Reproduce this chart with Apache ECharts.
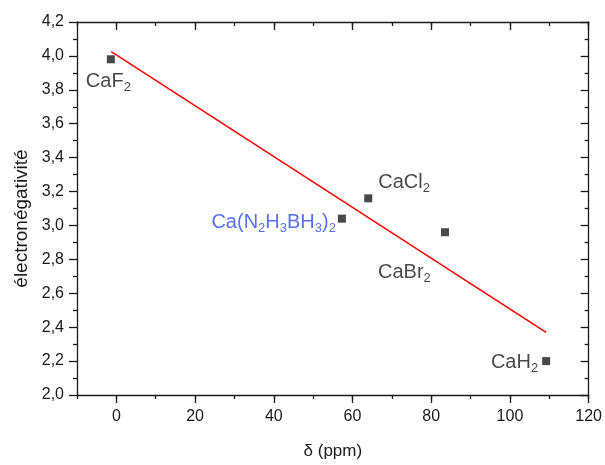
<!DOCTYPE html>
<html>
<head>
<meta charset="utf-8">
<script src="https://cdn.jsdelivr.net/npm/echarts@6/dist/echarts.min.js"></script>
<style>html,body{margin:0;padding:0;background:#fff}#c{width:605px;height:465px}</style>
</head>
<body>
<div id="c"></div>
<script>
// ---- data ----
const compounds = ['CaF2', 'CaCl2', 'Ca(N2H3BH3)2', 'CaBr2', 'CaH2'];
const shifts = [-1.4, 64.0, 57.3, 83.5, 109.2];          // δ (ppm)
const electronegativity = [3.98, 3.16, 3.04, 2.96, 2.20];
const fitX = [-1.3, 109.2];
const fitY = [4.025, 2.37];
const xMajorTicks = [0, 20, 40, 60, 80, 100, 120];
const xLabel = 'δ (ppm)';
const yLabel = 'électronégativité';

// ---- presentation ----
const TXT = '#1a1a1a';
const FONT = '"Liberation Sans", Arial, sans-serif';
const labelPlacement = [
  {align: 'left',  offset: [-25, 22]},
  {align: 'left',  offset: [10, -16]},
  {align: 'right', offset: [-6, 4]},
  {align: 'left',  offset: [-67, 40]},
  {align: 'right', offset: [-8, 1]}
];
const highlight = [false, false, true, false, false];

function toRich(name, blue) {
  const m = blue ? 'bm' : 'm', s = blue ? 'bs' : 's';
  return name.replace(/(\D+)|(\d+)/g, (all, a, d) => a ? `{${m}|${a}}` : `{${s}|${d}}`);
}

const scatterData = compounds.map((n, i) => ({
  value: [shifts[i], electronegativity[i]],
  label: {
    show: true,
    position: 'inside',
    align: labelPlacement[i].align,
    verticalAlign: 'middle',
    offset: labelPlacement[i].offset,
    formatter: toRich(n, highlight[i])
  }
}));

const richStyles = {
  m: {fontSize: 20, color: TXT, fontFamily: FONT},
  s: {fontSize: 13, color: TXT, fontFamily: FONT, padding: [12, 0, 0, 0]},
  bm: {fontSize: 20, color: '#2a4cf0', fontFamily: FONT},
  bs: {fontSize: 13, color: '#2a4cf0', fontFamily: FONT, padding: [12, 0, 0, 0]}
};

const axLine = {show: true, onZero: false, lineStyle: {color: TXT, width: 1.3}};
const noLine = {show: false, onZero: false};
const xCommon = {type: 'value', min: -10, max: 120, splitLine: {show: false}, gridIndex: 0};

const chart = echarts.init(document.getElementById('c'), null, {renderer: 'canvas'});
chart.setOption({
  animation: false,
  backgroundColor: '#fff',
  grid: {left: 77, right: 14, top: 22, bottom: 66, containLabel: false},
  xAxis: [
    Object.assign({}, xCommon, {
      position: 'bottom', interval: 10,
      axisLine: axLine,
      axisTick: {show: true, inside: false, length: 4, lineStyle: {color: TXT, width: 1.3}},
      axisLabel: {show: true, margin: 14, color: TXT, fontSize: 16, fontFamily: FONT,
        formatter: v => (Math.round(v) % 20 === 0 ? String(Math.round(v)) : '')},
      name: xLabel, nameLocation: 'middle', nameGap: 48,
      nameTextStyle: {fontSize: 17, color: TXT, fontFamily: FONT}
    }),
    Object.assign({}, xCommon, {
      position: 'bottom',
      axisLine: noLine,
      axisTick: {show: true, inside: false, length: 8, customValues: xMajorTicks, lineStyle: {color: TXT, width: 1.3}},
      axisLabel: {show: false}
    }),
    Object.assign({}, xCommon, {
      position: 'top', interval: 10,
      axisLine: axLine,
      axisTick: {show: true, inside: true, length: 4, lineStyle: {color: TXT, width: 1.3}},
      axisLabel: {show: false}
    }),
    Object.assign({}, xCommon, {
      position: 'top',
      axisLine: noLine,
      axisTick: {show: true, inside: true, length: 8, customValues: xMajorTicks, lineStyle: {color: TXT, width: 1.3}},
      axisLabel: {show: false}
    })
  ],
  yAxis: [
    {
      type: 'value', min: 2.0, max: 4.2, interval: 0.2, position: 'left',
      splitLine: {show: false},
      axisLine: axLine,
      axisTick: {show: true, inside: false, length: 8, lineStyle: {color: TXT, width: 1.3}},
      minorTick: {show: true, splitNumber: 2, length: 4, lineStyle: {color: TXT, width: 1.3}},
      axisLabel: {show: true, margin: 13, color: TXT, fontSize: 16, fontFamily: FONT,
        formatter: v => v.toFixed(1).replace('.', ',')},
      name: yLabel, nameLocation: 'middle', nameGap: 36, nameRotate: 90,
      nameTextStyle: {fontSize: 19, color: TXT, fontFamily: FONT, padding: [0, 20, 0, 0]}
    },
    {
      type: 'value', min: 2.0, max: 4.2, interval: 0.2, position: 'right',
      splitLine: {show: false},
      axisLine: axLine,
      axisTick: {show: true, inside: true, length: 8, lineStyle: {color: TXT, width: 1.3}},
      minorTick: {show: true, splitNumber: 2, length: 4, lineStyle: {color: TXT, width: 1.3}},
      axisLabel: {show: false}
    }
  ],
  series: [
    {
      type: 'line',
      xAxisIndex: 0, yAxisIndex: 0,
      data: fitX.map((x, i) => [x, fitY[i]]),
      showSymbol: false, symbol: 'none',
      lineStyle: {color: '#ff0000', width: 1.5},
      z: 2
    },
    {
      type: 'scatter',
      xAxisIndex: 0, yAxisIndex: 0,
      symbol: 'rect', symbolSize: 8,
      itemStyle: {color: '#1a1a1a'},
      label: {rich: richStyles},
      data: scatterData,
      z: 3
    }
  ]
});
</script>
</body>
</html>
